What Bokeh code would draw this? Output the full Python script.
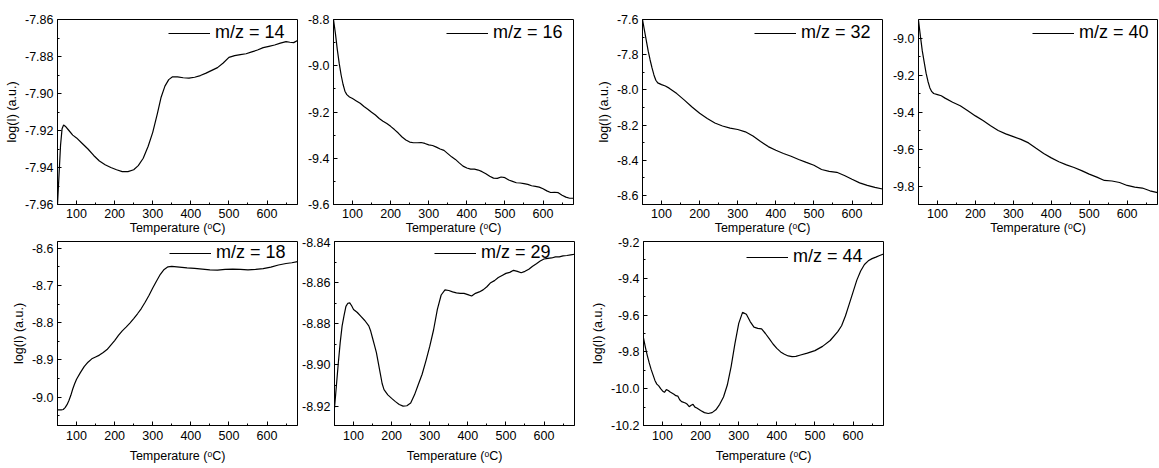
from bokeh.plotting import figure
from bokeh.layouts import column, row
from bokeh.models import Range1d, FixedTicker, PrintfTickFormatter
from bokeh.embed import file_html
from bokeh.resources import INLINE

# ---------------- data ----------------
x_ticks = [100, 200, 300, 400, 500, 600]
x_minor = [50, 150, 250, 350, 450, 550, 650]
x_title = "Temperature (\u1d52C)"
y_title = "log(I) (a.u.)"

labels = ["m/z = 14", "m/z = 16", "m/z = 32", "m/z = 40", "m/z = 18", "m/z = 29", "m/z = 44"]

t14 = [50, 52, 55, 58, 62, 66, 72, 80, 90, 100, 115, 130, 145, 160, 175, 190, 205, 220, 235, 250, 262, 275,
       288, 300, 312, 322, 332, 342, 352, 365, 380, 395, 410, 425, 440, 455, 470, 485, 500, 515, 530, 545, 560,
       575, 590, 605, 620, 635, 650, 660, 670, 680]
v14 = [-7.960, -7.952, -7.940, -7.928, -7.919, -7.917, -7.918, -7.920, -7.9225, -7.924, -7.927, -7.930, -7.9335,
       -7.9365, -7.9385, -7.940, -7.9412, -7.9422, -7.9422, -7.9412, -7.939, -7.935, -7.9285, -7.921, -7.911,
       -7.902, -7.896, -7.8925, -7.891, -7.891, -7.8915, -7.8917, -7.8912, -7.8903, -7.889, -7.8875, -7.886,
       -7.8835, -7.8805, -7.8795, -7.879, -7.8785, -7.8775, -7.8765, -7.8752, -7.8745, -7.8738, -7.8728, -7.872,
       -7.8723, -7.8725, -7.8713]

t16 = [50, 55, 60, 65, 70, 75, 80, 85, 92, 100, 110, 120, 130, 140, 150, 160, 170, 180, 190, 200, 210, 220, 230,
       240, 250, 260, 270, 280, 290, 300, 310, 320, 330, 340, 350, 360, 370, 380, 390, 400, 410, 420, 430, 440,
       450, 460, 470, 480, 490, 500, 510, 520, 530, 540, 550, 560, 570, 580, 590, 600, 610, 620, 630, 640, 650,
       660, 670, 680]
v16 = [-8.80, -8.86, -8.93, -8.99, -9.04, -9.08, -9.11, -9.125, -9.135, -9.142, -9.152, -9.162, -9.176, -9.188,
       -9.201, -9.213, -9.228, -9.240, -9.250, -9.262, -9.276, -9.291, -9.308, -9.321, -9.330, -9.333, -9.333,
       -9.332, -9.336, -9.342, -9.345, -9.352, -9.360, -9.366, -9.380, -9.394, -9.405, -9.420, -9.434, -9.442,
       -9.447, -9.447, -9.451, -9.458, -9.467, -9.478, -9.486, -9.487, -9.481, -9.484, -9.494, -9.500, -9.506,
       -9.507, -9.510, -9.513, -9.519, -9.522, -9.525, -9.532, -9.541, -9.548, -9.547, -9.549, -9.560, -9.568,
       -9.573, -9.573]

t32 = [50, 55, 60, 65, 70, 75, 80, 85, 90, 100, 110, 120, 140, 160, 180, 200, 220, 240, 260, 280, 300, 320, 340,
       360, 380, 400, 420, 440, 460, 480, 500, 520, 540, 560, 580, 600, 620, 640, 660, 680]
v32 = [-7.60, -7.66, -7.72, -7.78, -7.83, -7.875, -7.915, -7.945, -7.96, -7.970, -7.978, -7.990, -8.021, -8.058,
       -8.097, -8.133, -8.162, -8.188, -8.205, -8.217, -8.225, -8.238, -8.262, -8.293, -8.322, -8.343, -8.361,
       -8.377, -8.395, -8.412, -8.428, -8.452, -8.463, -8.468, -8.486, -8.508, -8.528, -8.542, -8.554, -8.563]

t40 = [50, 55, 60, 65, 70, 75, 80, 85, 90, 100, 110, 120, 140, 160, 180, 200, 220, 240, 260, 280, 300, 320, 340,
       360, 380, 400, 420, 440, 460, 480, 500, 520, 540, 560, 580, 600, 620, 640, 660, 680]
v40 = [-8.905, -8.99, -9.07, -9.13, -9.19, -9.235, -9.27, -9.29, -9.30, -9.306, -9.312, -9.325, -9.347, -9.366,
       -9.393, -9.421, -9.446, -9.474, -9.500, -9.518, -9.533, -9.548, -9.567, -9.596, -9.624, -9.648, -9.669,
       -9.686, -9.700, -9.717, -9.736, -9.752, -9.770, -9.773, -9.781, -9.797, -9.806, -9.811, -9.826, -9.836]

t18 = [50, 55, 60, 65, 70, 75, 80, 85, 90, 95, 100, 110, 120, 130, 140, 150, 160, 170, 180, 190, 200, 210, 220,
       230, 240, 250, 260, 270, 280, 290, 300, 310, 320, 330, 340, 350, 370, 390, 410, 430, 450, 470, 490, 510,
       530, 550, 570, 590, 610, 630, 650, 665, 680]
v18 = [-9.034, -9.034, -9.034, -9.033, -9.028, -9.02, -9.009, -8.995, -8.978, -8.964, -8.952, -8.934, -8.918,
       -8.906, -8.897, -8.892, -8.887, -8.880, -8.872, -8.860, -8.848, -8.834, -8.822, -8.812, -8.801, -8.789,
       -8.776, -8.762, -8.745, -8.727, -8.707, -8.688, -8.670, -8.657, -8.650, -8.649, -8.651, -8.653, -8.654,
       -8.656, -8.658, -8.659, -8.657, -8.656, -8.657, -8.658, -8.657, -8.655, -8.651, -8.645, -8.641, -8.639,
       -8.636]

t29 = [50, 55, 60, 65, 70, 75, 80, 85, 90, 95, 100, 110, 120, 130, 140, 145, 150, 155, 160, 165, 170, 175, 180,
       190, 200, 210, 220, 230, 240, 250, 260, 270, 280, 290, 300, 310, 320, 330, 340, 350, 360, 370, 380, 390,
       400, 410, 420, 430, 440, 450, 460, 470, 480, 490, 500, 510, 520, 530, 540, 550, 560, 570, 580, 590, 600,
       610, 620, 630, 640, 650, 660, 670, 680]
v29 = [-8.921, -8.910, -8.899, -8.889, -8.881, -8.876, -8.8715, -8.870, -8.8698, -8.8712, -8.873, -8.8745,
       -8.8765, -8.8785, -8.881, -8.8835, -8.887, -8.8905, -8.894, -8.899, -8.904, -8.909, -8.912, -8.9145,
       -8.9162, -8.9178, -8.9192, -8.920, -8.9198, -8.9185, -8.9145, -8.9095, -8.9045, -8.898, -8.891, -8.883,
       -8.873, -8.866, -8.8635, -8.8638, -8.8645, -8.865, -8.8652, -8.8652, -8.8658, -8.8665, -8.8652, -8.8645,
       -8.8635, -8.862, -8.860, -8.859, -8.8575, -8.8565, -8.8555, -8.855, -8.854, -8.8545, -8.8552, -8.8545,
       -8.8535, -8.852, -8.8508, -8.8495, -8.8485, -8.8482, -8.848, -8.8475, -8.8475, -8.847, -8.8468, -8.8465,
       -8.8462]

t44 = [50, 55, 60, 65, 70, 75, 80, 85, 90, 95, 100, 105, 110, 115, 120, 130, 135, 140, 145, 150, 160, 165, 170,
       175, 180, 185, 190, 200, 210, 220, 230, 240, 250, 260, 270, 280, 290, 300, 310, 320, 330, 340, 350, 360,
       370, 380, 390, 400, 410, 420, 430, 440, 450, 460, 480, 500, 520, 540, 560, 570, 580, 590, 600, 610, 620,
       630, 640, 650, 660, 670, 680]
v44 = [-9.725, -9.775, -9.82, -9.86, -9.895, -9.925, -9.955, -9.975, -9.985, -10.0, -10.012, -10.02, -10.005,
       -10.01, -10.018, -10.03, -10.038, -10.04, -10.06, -10.07, -10.078, -10.085, -10.098, -10.09, -10.085,
       -10.1, -10.105, -10.118, -10.13, -10.135, -10.13, -10.115, -10.085, -10.045, -9.98, -9.88, -9.755, -9.645,
       -9.585, -9.595, -9.635, -9.665, -9.672, -9.675, -9.700, -9.728, -9.757, -9.781, -9.800, -9.813, -9.822,
       -9.826, -9.824, -9.818, -9.807, -9.793, -9.770, -9.738, -9.690, -9.658, -9.605, -9.54, -9.475, -9.41,
       -9.36, -9.325, -9.305, -9.293, -9.285, -9.276, -9.268]

yt14 = [-7.96, -7.94, -7.92, -7.90, -7.88, -7.86]
yt16 = [-9.6, -9.4, -9.2, -9.0, -8.8]
yt32 = [-8.6, -8.4, -8.2, -8.0, -7.8, -7.6]
yt40 = [-9.8, -9.6, -9.4, -9.2, -9.0]
yt18 = [-9.0, -8.9, -8.8, -8.7, -8.6]
yt29 = [-8.92, -8.90, -8.88, -8.86, -8.84]
yt44 = [-10.2, -10.0, -9.8, -9.6, -9.4, -9.2]

FONT = "Liberation Sans"
LEG_H = 24


def make_fig(t, v, name, yr, yt, fmt, ylabel, left, fw, top, fh, bottom, leg_xy, top_row):
    p = figure(frame_width=fw, frame_height=fh, min_border_left=left, min_border_right=2,
               min_border_top=top, min_border_bottom=bottom,
               x_range=Range1d(50, 680), y_range=Range1d(*yr),
               output_backend="svg", toolbar_location=None)
    p.line(t, v, line_color="black", line_width=1.2, legend_label=name)
    p.xgrid.visible = False
    p.ygrid.visible = False
    p.outline_line_color = "black"
    p.outline_line_alpha = 1
    p.outline_line_width = 1
    p.background_fill_color = "white"
    p.border_fill_color = "white"

    step = yt[1] - yt[0]
    yminor = [yt[0] - step / 2] + [(a + b) / 2 for a, b in zip(yt[:-1], yt[1:])] + [yt[-1] + step / 2]

    for ax in (p.xaxis[0], p.yaxis[0]):
        ax.axis_line_color = "black"
        ax.major_tick_line_color = "black"
        ax.minor_tick_line_color = "black"
        ax.major_tick_in = 4
        ax.major_tick_out = 0
        ax.minor_tick_in = 2
        ax.minor_tick_out = 0
        ax.major_label_text_font = FONT
        ax.major_label_text_font_size = "12.5px"
        ax.major_label_text_color = "black"
        ax.axis_label_text_font = FONT
        ax.axis_label_text_font_size = "12.5px"
        ax.axis_label_text_font_style = "normal"
        ax.axis_label_text_color = "black"

    xa = p.xaxis[0]
    xa.ticker = FixedTicker(ticks=x_ticks, minor_ticks=x_minor)
    xa.axis_label = x_title
    xa.major_label_standoff = 4 if top_row else 5
    xa.axis_label_standoff = 0 if top_row else 6

    ya = p.yaxis[0]
    ya.ticker = FixedTicker(ticks=yt, minor_ticks=yminor)
    ya.formatter = PrintfTickFormatter(format=fmt)
    ya.major_label_standoff = 4
    if ylabel:
        ya.axis_label = y_title
        ya.axis_label_standoff = 3

    lg = p.legend[0]
    # (x offset of box from frame left, offset of box top from frame top)
    lx, ltop = leg_xy
    lg.location = (lx, fh - ltop - LEG_H)
    lg.margin = 0
    lg.padding = 2
    lg.spacing = 0
    lg.border_line_alpha = 0
    lg.background_fill_alpha = 0
    lg.label_text_font = FONT
    lg.label_text_font_size = "18px"
    lg.label_text_color = "black"
    lg.glyph_width = 42
    lg.glyph_height = 20
    lg.label_height = 20
    lg.label_standoff = 5
    return p


TOP_T, TOP_H, TOP_B = 19, 185, 33
BOT_T, BOT_H, BOT_B = 4, 184, 43

f1 = make_fig(t14, v14, labels[0], (-7.96, -7.86), yt14, "%.2f", True, 57, 240, TOP_T, TOP_H, TOP_B, (109, 2), True)
f2 = make_fig(t16, v16, labels[1], (-9.6, -8.8), yt16, "%.1f", False, 34, 240, TOP_T, TOP_H, TOP_B, (111, 2), True)
f3 = make_fig(t32, v32, labels[2], (-8.651, -7.6), yt32, "%.1f", True, 67, 240, TOP_T, TOP_H, TOP_B, (110, 2), True)
f4 = make_fig(t40, v40, labels[3], (-9.9, -8.9), yt40, "%.1f", False, 34, 239, TOP_T, TOP_H, TOP_B, (112, 2), True)

f5 = make_fig(t18, v18, labels[4], (-9.076, -8.582), yt18, "%.1f", True, 57, 240, BOT_T, BOT_H, BOT_B, (110, 0), False)
f6 = make_fig(t29, v29, labels[5], (-8.9294, -8.84), yt29, "%.2f", False, 34, 240, BOT_T, BOT_H, BOT_B, (98, 0), False)
f7 = make_fig(t44, v44, labels[6], (-10.2, -9.2), yt44, "%.1f", True, 67, 240, BOT_T, BOT_H, BOT_B, (101, 4), False)

layout = column(row(f1, f2, f3, f4, spacing=0), row(f5, f6, f7, spacing=0), spacing=0)

open("out.html", "w").write(file_html(layout, INLINE))
